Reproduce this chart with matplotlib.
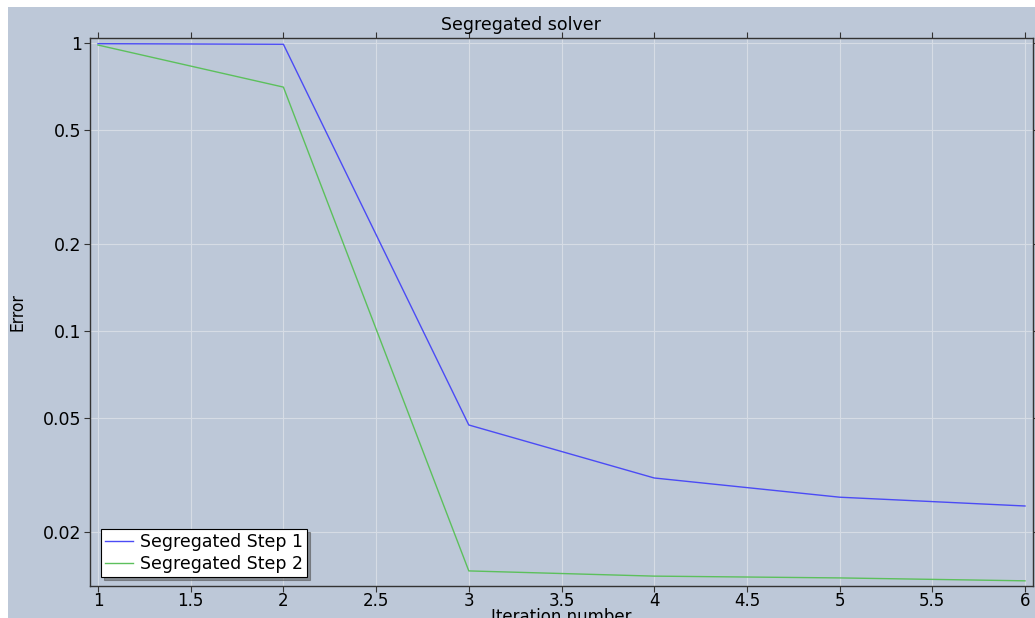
import matplotlib.pyplot as plt
from matplotlib.patches import Rectangle

# iteration data
iterations = [1, 2, 3, 4, 5, 6]
step1_error = [0.995, 0.99, 0.0472, 0.0309, 0.0265, 0.0247]
step2_error = [0.984, 0.703, 0.0147, 0.0141, 0.0139, 0.01358]
y_ticks = [1, 0.5, 0.2, 0.1, 0.05, 0.02]
y_tick_labels = ['1', '0.5', '0.2', '0.1', '0.05', '0.02']
x_ticks = [1, 1.5, 2, 2.5, 3, 3.5, 4, 4.5, 5, 5.5, 6]
x_tick_labels = ['1', '1.5', '2', '2.5', '3', '3.5', '4', '4.5', '5', '5.5', '6']

BG = '#bdc8d8'
FS = 12.5

fig = plt.figure(figsize=(10.35, 6.18), dpi=100, facecolor='white')
# background panel (white strip on top and left like the screenshot)
fig.patches.append(Rectangle((8 / 1035, 0), 1, 1 - 7 / 618, transform=fig.transFigure,
                             facecolor=BG, edgecolor='none', zorder=-10))

ax = fig.add_axes([90 / 1035, 1 - 586 / 618, 943 / 1035, 548 / 618])
ax.set_facecolor(BG)

ax.plot(iterations, step1_error, color='#4b4bf5', lw=1.0, label='Segregated Step 1')
ax.plot(iterations, step2_error, color='#5cc05c', lw=1.0, label='Segregated Step 2')

ax.set_yscale('log')
ax.set_xlim(1 - 8 / 185.4, 6 + 8 / 185.4)
ax.set_ylim(0.01303, 1.041)
ax.set_xticks(x_ticks)
ax.set_xticklabels(x_tick_labels)
ax.set_yticks(y_ticks)
ax.set_yticklabels(y_tick_labels)
ax.minorticks_off()
ax.tick_params(axis='both', labelsize=FS, length=4, color='#333333', pad=2)
ax.tick_params(axis='x', labelsize=12, pad=0)
ax.tick_params(top=True, right=True)
ax.grid(True, color='#d6dce5', lw=0.8)

for s in ax.spines.values():
    s.set_color('#333333')
    s.set_linewidth(1.0)

fig.text(521 / 1035, 1 - 25 / 618, 'Segregated solver', fontsize=FS, ha='center', va='center')
ax.set_ylabel('Error', fontsize=FS, fontstretch='condensed')
ax.yaxis.set_label_coords((26 - 90) / 943, 0.5)
ax.set_xlabel('Iteration number', fontsize=12)
ax.xaxis.set_label_coords(0.5, -(608 - 586) / 548)
ax.xaxis.label.set_va('top')

leg = ax.legend(loc='lower left', fontsize=FS, fancybox=False, shadow=True,
                framealpha=1, edgecolor='black', handlelength=1.6,
                borderpad=0.25, labelspacing=0.2, handletextpad=0.4,
                borderaxespad=0, bbox_to_anchor=(11 / 943, 9 / 548))
leg.get_frame().set_linewidth(0.8)

fig.savefig('out.png', dpi=100, facecolor=fig.get_facecolor())
